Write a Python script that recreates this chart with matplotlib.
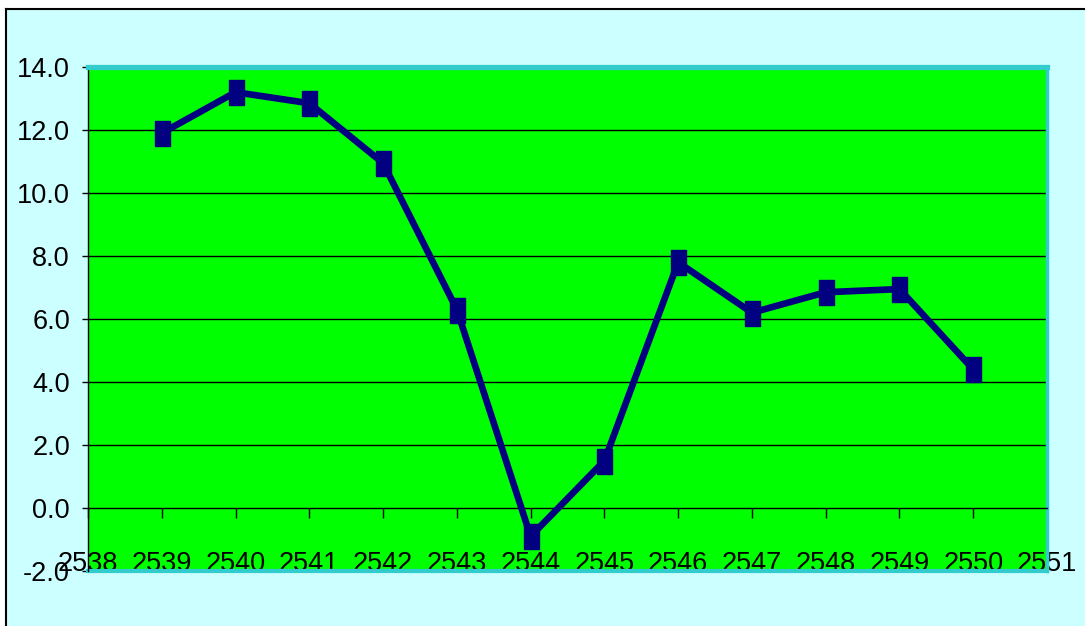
import numpy as np
import matplotlib
matplotlib.use('Agg')
from matplotlib import pyplot as plt
from matplotlib.patches import Rectangle
from matplotlib.lines import Line2D

years = [2539, 2540, 2541, 2542, 2543, 2544, 2545, 2546, 2547, 2548, 2549, 2550]
values = [11.9, 13.2, 12.85, 10.95, 6.3, -0.9, 1.5, 7.8, 6.2, 6.85, 6.95, 4.4]
x_ticks = list(range(2538, 2552))
y_ticks = [-2.0, 0.0, 2.0, 4.0, 6.0, 8.0, 10.0, 12.0, 14.0]

plt.rcParams['font.family'] = ['Liberation Sans Narrow', 'Liberation Sans', 'DejaVu Sans']

W, H = 1085, 626
fig = plt.figure(figsize=(W / 100, H / 100), dpi=100, facecolor='white')

# light cyan chart area with black frame (top and left visible)
fig.add_artist(Rectangle((6 / W, -0.1), 1.2, (H - 9) / H + 0.1, transform=fig.transFigure,
                         facecolor='#CCFFFF', edgecolor='none', zorder=-10))
fig.add_artist(Line2D([5.5 / W, 5.5 / W], [0, (H - 9) / H], transform=fig.transFigure,
                      color='black', lw=1.5))
fig.add_artist(Line2D([5.5 / W, 1], [(H - 9) / H, (H - 9) / H], transform=fig.transFigure,
                      color='black', lw=1.5))

ax = fig.add_axes([88 / W, (H - 571) / H, (1047 - 88) / W, (571 - 67) / H])
ax.set_facecolor('#00FF00')

# line with tall square markers
marker = [(-0.3, -0.5), (0.3, -0.5), (0.3, 0.5), (-0.3, 0.5), (-0.3, -0.5)]
ax.plot(years, values, color='#000080', lw=4.8, marker=marker, markersize=18,
        markerfacecolor='#000080', markeredgecolor='#000080', zorder=5, clip_on=False)

ax.set_xlim(2538, 2551)
ax.set_ylim(-2, 14)
ax.set_xticks(x_ticks)
ax.set_xticklabels([str(v) for v in x_ticks])
ax.set_yticks(y_ticks)
ax.set_yticklabels(['%.1f' % v for v in y_ticks])

# horizontal gridlines
for v in y_ticks[2:-1]:
    ax.axhline(v, color='black', lw=1.0, zorder=1)

ax.spines['bottom'].set_position(('data', 0))
ax.spines['bottom'].set_linewidth(1.0)
ax.spines['left'].set_linewidth(1.0)
ax.spines['top'].set_color('#33CCCC')
ax.spines['top'].set_linewidth(3.8)
ax.spines['right'].set_color('#33CCCC')
ax.spines['right'].set_linewidth(2.5)
ax.axhline(-2, color='#33CCCC', lw=3.0, clip_on=False, zorder=2)

ax.tick_params(axis='x', direction='out', length=7.5, width=1.0, pad=23.5, labelsize=19.5)
ax.tick_params(axis='y', direction='out', length=4.5, width=1.0, pad=8.5, labelsize=19.5)

fig.savefig('out.png', dpi=100, facecolor=fig.get_facecolor())
